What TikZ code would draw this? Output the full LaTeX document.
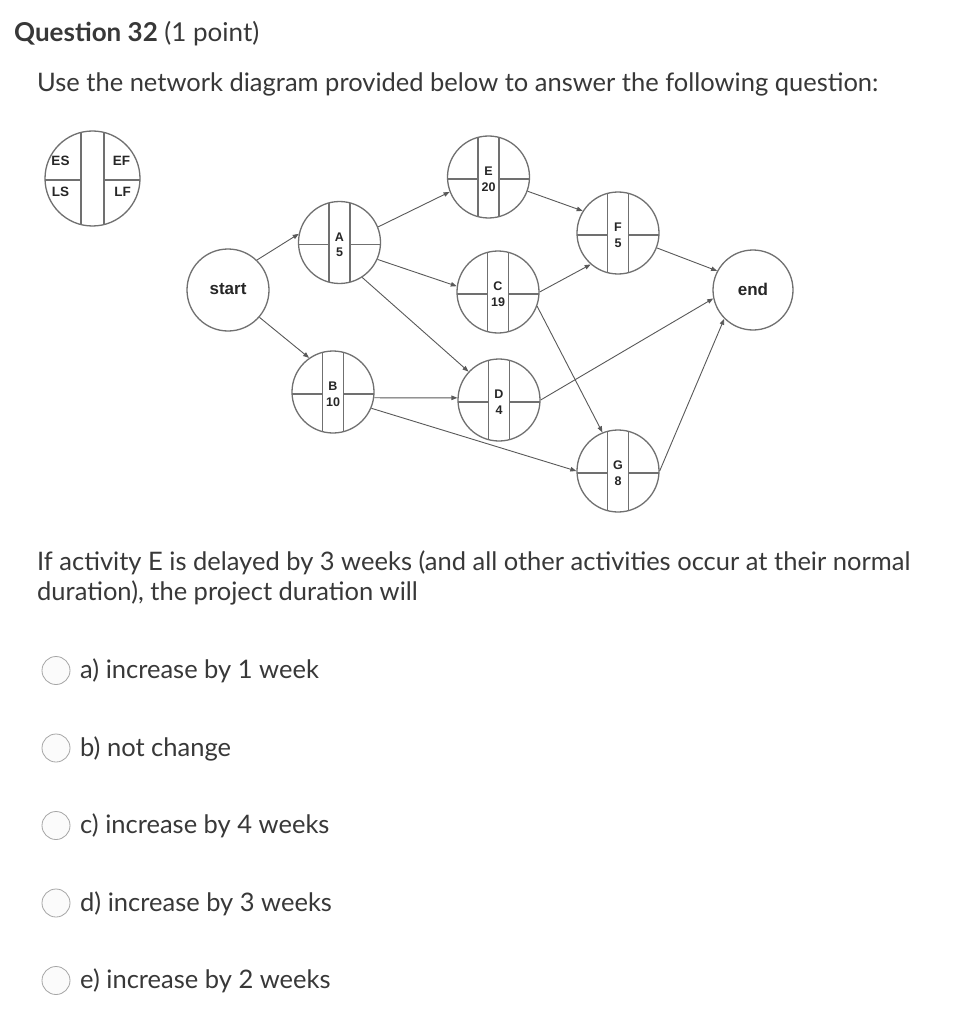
\documentclass[tikz,border=0pt]{standalone}
\usepackage{fontspec}
\setmainfont{Lato}
\newfontfamily\diagfont{Liberation Sans}
\usetikzlibrary{arrows.meta,calc}
\definecolor{txt}{HTML}{383838}
\definecolor{edge}{HTML}{595959}
\definecolor{ring}{HTML}{707070}
\tikzset{
  act/.style={circle,draw=ring,line width=1.3pt,minimum size=82pt,inner sep=0pt,fill=white},
  legendnode/.style={circle,draw=ring,line width=1.3pt,minimum size=95pt,inner sep=0pt,fill=white},
  inner/.style={draw=ring,line width=1.3pt},
  conn/.style={draw=edge,line width=0.9pt,-{Triangle[length=6pt,width=4.5pt]}},
  lab/.style={font=\diagfont\bfseries\fontsize{12.5}{13}\selectfont,text=black!85,inner sep=0pt},
  leglab/.style={font=\diagfont\bfseries\fontsize{13.5}{14}\selectfont,text=black!85,inner sep=0pt},
  biglab/.style={font=\diagfont\bfseries\fontsize{17}{18}\selectfont,text=black!85,inner sep=0pt},
  body/.style={font=\fontsize{25.5}{30}\selectfont,text=txt,anchor=base west,inner sep=0pt},
  radio/.style={circle,draw=gray!70,line width=0.8pt,fill=gray!3,minimum size=28pt,inner sep=0pt},
}
\newcommand\actnode[5]{%
  \node[act] (#1) at (#2,#3) {};
  \draw[inner] ($(#1.center)+(-10.5,-39.6)$) -- ($(#1.center)+(-10.5,39.6)$);
  \draw[inner] ($(#1.center)+(10.5,-39.6)$) -- ($(#1.center)+(10.5,39.6)$);
  \draw[inner] ($(#1.center)+(-40.9,2)$) -- ($(#1.center)+(-10.5,2)$);
  \draw[inner] ($(#1.center)+(10.5,2)$) -- ($(#1.center)+(40.9,2)$);
  \node[lab] (#1l) at ($(#1.center)+(0,-5.5)$) {#4};
  \node[lab] (#1d) at ($(#1.center)+(0,10)$) {#5};
}
\begin{document}
\begin{tikzpicture}[x=1pt,y=-1pt]
\useasboundingbox[fill=white] (0,0) rectangle (965,1024);
% header
\node[body,font=\fontsize{26}{30}\selectfont] (hdr) at (14,42) {\textbf{Question 32} (1 point)};
\node[body] (intro) at (37,91.5) {Use the network diagram provided below to answer the following question:};
% legend
\node[legendnode] (leg) at (92.5,178.5) {};
\draw[inner] ($(leg.center)+(-11.5,-46)$) -- ($(leg.center)+(-11.5,46)$);
\draw[inner] ($(leg.center)+(11.5,-46)$) -- ($(leg.center)+(11.5,46)$);
\draw[inner] ($(leg.center)+(-47.4,1.5)$) -- ($(leg.center)+(-11.5,1.5)$);
\draw[inner] ($(leg.center)+(11.5,1.5)$) -- ($(leg.center)+(47.4,1.5)$);
\node[leglab] (es) at (60.5,160.5) {ES};
\node[leglab] (ef) at (121.5,160.5) {EF};
\node[leglab] (ls) at (60.5,192) {LS};
\node[leglab] (lf) at (122.5,192) {LF};
% start / end
\node[act] (start) at (228,290) {};
\node[biglab] (startl) at (228,289) {start};
\node[act,minimum size=80pt] (end) at (753,290) {};
\node[biglab] (endl) at (753,289) {end};
% activities
\actnode{A}{339.5}{242.5}{A}{5}
\actnode{B}{333}{392}{B}{10}
\actnode{E}{488.5}{177}{E}{20}
\actnode{C}{498}{292}{C}{19}
\actnode{D}{499}{400}{D}{4}
\actnode{F}{618}{233}{F}{5}
\actnode{G}{618}{471}{G}{8}
% connectors
\draw[conn] (start.46) -- (A.168);
\draw[conn] (start.-41) -- (B.125);
\draw[conn] (A.22) -- (E.201);
\draw[conn] (A.-24) -- (C.172);
\draw[conn] (A.-57) -- (D.137);
\draw[conn] (B.-8) -- (D.177);
\draw[conn] (B.-23) -- (G.180);
\draw[conn] (E.-20) -- (F.148);
\draw[conn] (C.0) -- (F.229);
\draw[conn] (C.-20) -- (G.112);
\draw[conn] (F.-21) -- (end.152);
\draw[conn] (D.0) -- (end.192);
\draw[conn] (G.0) -- (end.225);
% question
\node[body] (q1) at (37,570) {If activity E is delayed by 3 weeks (and all other activities occur at their normal};
\node[body] (q2) at (37,600) {duration), the project duration will};
% options
\node[radio] (ra) at (56,670.5) {};
\node[body] (oa) at (80,678.5) {a) increase by 1 week};
\node[radio] (rb) at (56,748) {};
\node[body] (ob) at (80,756) {b) not change};
\node[radio] (rc) at (56,825.5) {};
\node[body] (oc) at (80,833.5) {c) increase by 4 weeks};
\node[radio] (rd) at (56,903) {};
\node[body] (od) at (80,911) {d) increase by 3 weeks};
\node[radio] (re) at (56,980.5) {};
\node[body] (oe) at (80,988.5) {e) increase by 2 weeks};
\end{tikzpicture}
\end{document}
